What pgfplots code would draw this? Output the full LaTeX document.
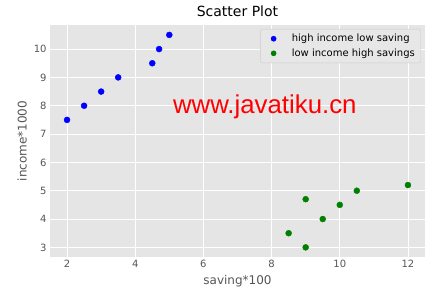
\documentclass[border=0pt]{standalone}
\usepackage{pgfplots}
\pgfplotsset{compat=1.18}
\usepackage{fontspec}
\setmainfont{DejaVu Sans}
\newfontfamily\wm{Liberation Sans}
\definecolor{bg}{HTML}{E5E5E5}
\definecolor{lgbg}{HTML}{E7E7E7}
\definecolor{tickgray}{HTML}{555555}
\definecolor{mgreen}{rgb}{0,0.5,0}
\begin{document}
\begin{tikzpicture}
\path[use as bounding box] (-50bp,-37bp) rectangle (391bp,257bp);
\begin{axis}[
  at={(0,0)}, anchor=south west,
  scale only axis, width=375bp, height=232bp,
  xmin=1.5, xmax=12.5, ymin=2.66, ymax=10.85,
  xtick={2,4,...,12}, ytick={3,...,10},
  axis background/.style={fill=bg},
  axis line style={draw=none},
  grid=major, major grid style={white, line width=0.9bp},
  tick style={draw=none},
  tick label style={font=\fontsize{10bp}{12bp}\selectfont, text=tickgray},
  /pgf/number format/assume math mode=true,
  title={Scatter Plot},
  title style={font=\fontsize{14bp}{16bp}\selectfont, yshift=-1bp},
  xlabel={saving*100}, ylabel={income*1000},
  label style={font=\fontsize{12bp}{14bp}\selectfont, text=tickgray},
  legend style={at={(0.9893,0.9828)}, anchor=north east, draw={rgb,255:red,204;green,204;blue,204},
    fill=lgbg, rounded corners=2bp, text=black,
    row sep=3.5bp, inner xsep=4bp, inner ysep=4bp,
    nodes={inner xsep=2bp, inner ysep=1bp, font=\fontsize{10bp}{12bp}\selectfont}},
  legend cell align=left,
  legend image code/.code={%
    \path (0bp,0bp) (25bp,0bp);
    \draw[#1, mark size=2.6bp] plot coordinates {(9bp,0bp)};},
]
\addplot[only marks, mark=*, mark size=3bp, color=blue] coordinates {
  (2,7.5) (2.5,8) (3,8.5) (3.5,9) (4.5,9.5) (4.7,10) (5,10.5)
};
\addlegendentry{high income low saving}
\addplot[only marks, mark=*, mark size=3bp, color=mgreen] coordinates {
  (8.5,3.5) (9,3) (9,4.7) (9.5,4) (10,4.5) (10.5,5) (12,5.2)
};
\addlegendentry{low income high savings}
\node[text=red, font=\wm\fontsize{25.8bp}{30bp}\selectfont] at (axis cs:7.8,7.95) {www.javatiku.cn};
\end{axis}
\end{tikzpicture}
\end{document}
